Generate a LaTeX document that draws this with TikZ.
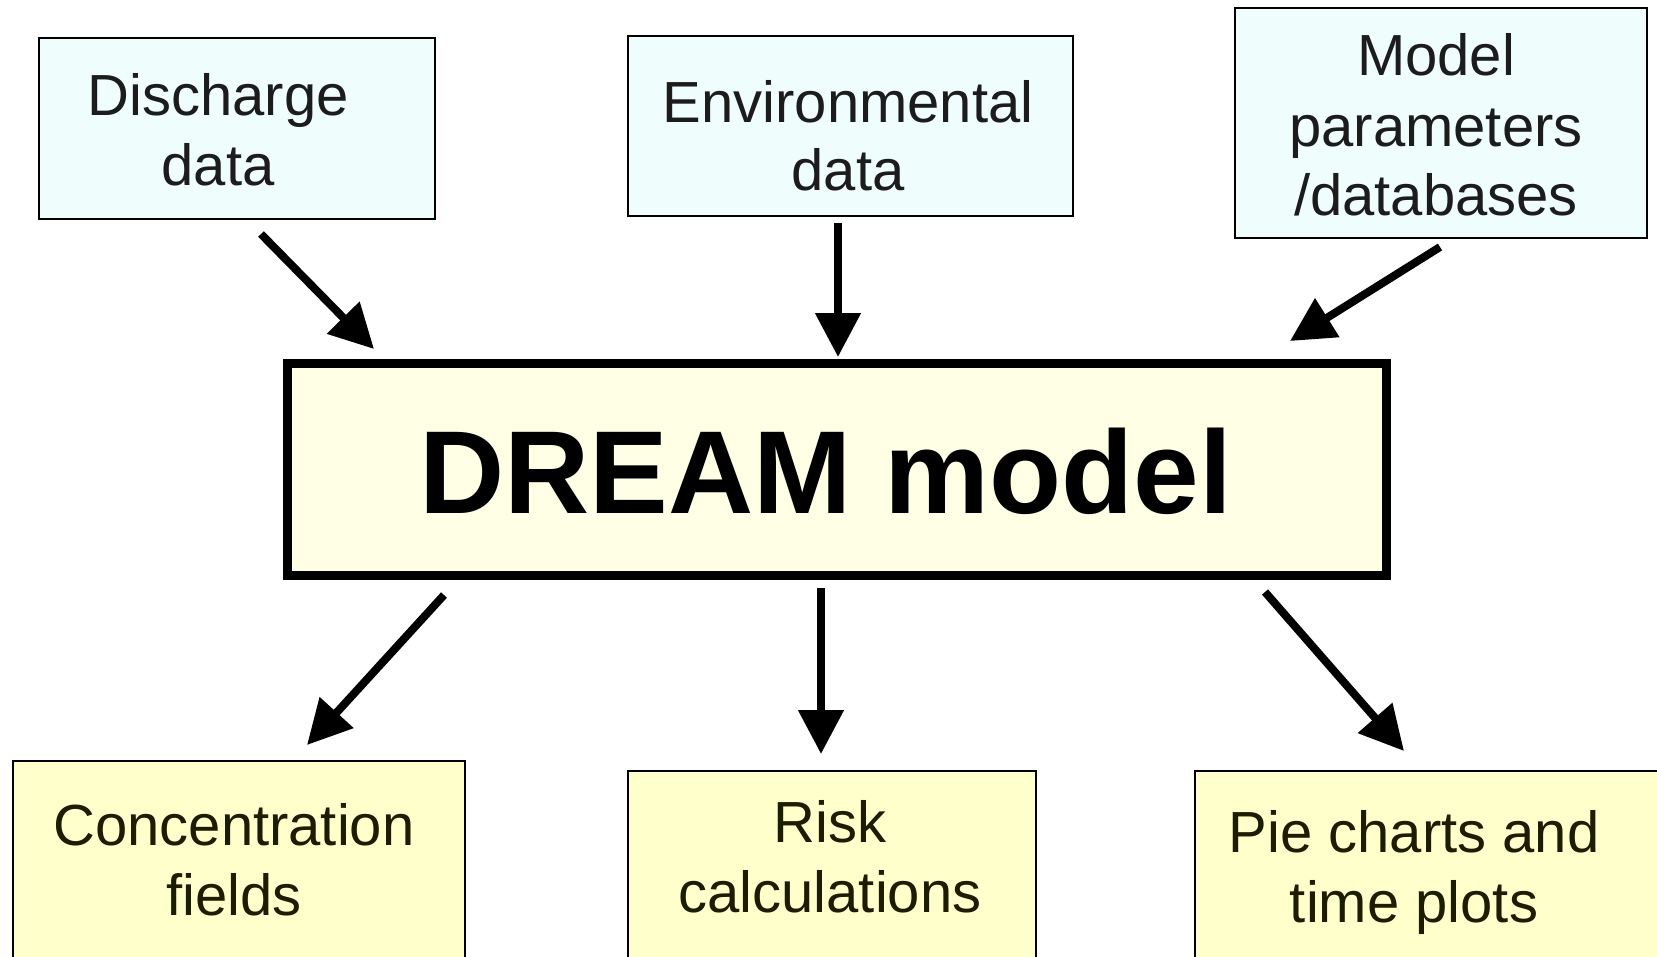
\documentclass[tikz,border=0pt]{standalone}
\usepackage{fontspec}
\setmainfont{Liberation Sans}
\usetikzlibrary{arrows.meta}
\definecolor{topfill}{HTML}{EFFDFD}
\definecolor{midfill}{HTML}{FFFFE6}
\definecolor{botfill}{HTML}{FFFFCC}
\definecolor{toptext}{HTML}{1C1C1C}
\definecolor{bottext}{HTML}{1C1C00}
\tikzset{
  inbox/.style={draw=black, line width=2pt, fill=topfill, inner sep=0pt, outer sep=0pt},
  outbox/.style={draw=black, line width=2pt, fill=botfill, inner sep=0pt, outer sep=0pt},
  mainbox/.style={draw=black, line width=9pt, fill=midfill, inner sep=0pt, outer sep=0pt},
  lbl/.style={anchor=base, inner sep=0pt, font=\fontsize{58}{68}\selectfont},
  toplbl/.style={lbl, text=toptext},
  botlbl/.style={lbl, text=bottext},
  arr/.style={line width=8pt, -{Triangle[length=44pt,width=44pt]}}
}
\begin{document}
\begin{tikzpicture}[x=1pt,y=-1pt]
\useasboundingbox (0,0) rectangle (1657,956);
\clip (0,0) rectangle (1657,956);
% input boxes
\node[inbox, minimum width=396pt, minimum height=181pt] (dis) at (237,128.5) {};
\node[inbox, minimum width=445pt, minimum height=180pt] (env) at (850.5,126) {};
\node[inbox, minimum width=412pt, minimum height=230pt] (mod) at (1441,123) {};
% main box
\node[mainbox, minimum width=1099pt, minimum height=212pt] (dream) at (837,469.5) {};
% output boxes
\node[outbox, minimum width=452pt, minimum height=240pt] (conc) at (239,881) {};
\node[outbox, minimum width=408pt, minimum height=240pt] (risk) at (832,891) {};
\node[outbox, minimum width=484pt, minimum height=240pt] (pie) at (1437,891) {};
% texts
\node[toplbl] (dis1) at (218,115) {Discharge};
\node[toplbl] (dis2) at (218,185) {data};
\node[toplbl] (env1) at (848,122) {Environmental};
\node[toplbl] (env2) at (848,190) {data};
\node[toplbl] (mod1) at (1436,75) {Model};
\node[toplbl] (mod2) at (1436,146) {parameters};
\node[toplbl] (mod3) at (1436,215) {/databases};
\node[anchor=base, inner sep=0pt, font=\fontsize{118}{130}\selectfont\bfseries] (dreamtxt) at (826,513) {DREAM model};
\node[botlbl] (conc1) at (234,845) {Concentration};
\node[botlbl] (conc2) at (234,915) {fields};
\node[botlbl] (risk1) at (830,842) {Risk};
\node[botlbl] (risk2) at (830,912) {calculations};
\node[botlbl] (pie1) at (1414,852) {Pie charts and};
\node[botlbl] (pie2) at (1414,922) {time plots};
% arrow end points
\coordinate (a1s) at (261,234);
\coordinate (a1e) at (374,349);
\coordinate (a2s) at (838,223);
\coordinate (a2e) at (838,357);
\coordinate (a3s) at (1440,247);
\coordinate (a3e) at (1290,341);
\coordinate (a4s) at (444,595);
\coordinate (a4e) at (307,745);
\coordinate (a5s) at (821,588);
\coordinate (a5e) at (821,754);
\coordinate (a6s) at (1265,592);
\coordinate (a6e) at (1404,751);
\draw[arr] (a1s) -- (a1e);
\draw[arr] (a2s) -- (a2e);
\draw[arr] (a3s) -- (a3e);
\draw[arr] (a4s) -- (a4e);
\draw[arr] (a5s) -- (a5e);
\draw[arr] (a6s) -- (a6e);
\end{tikzpicture}
\end{document}
